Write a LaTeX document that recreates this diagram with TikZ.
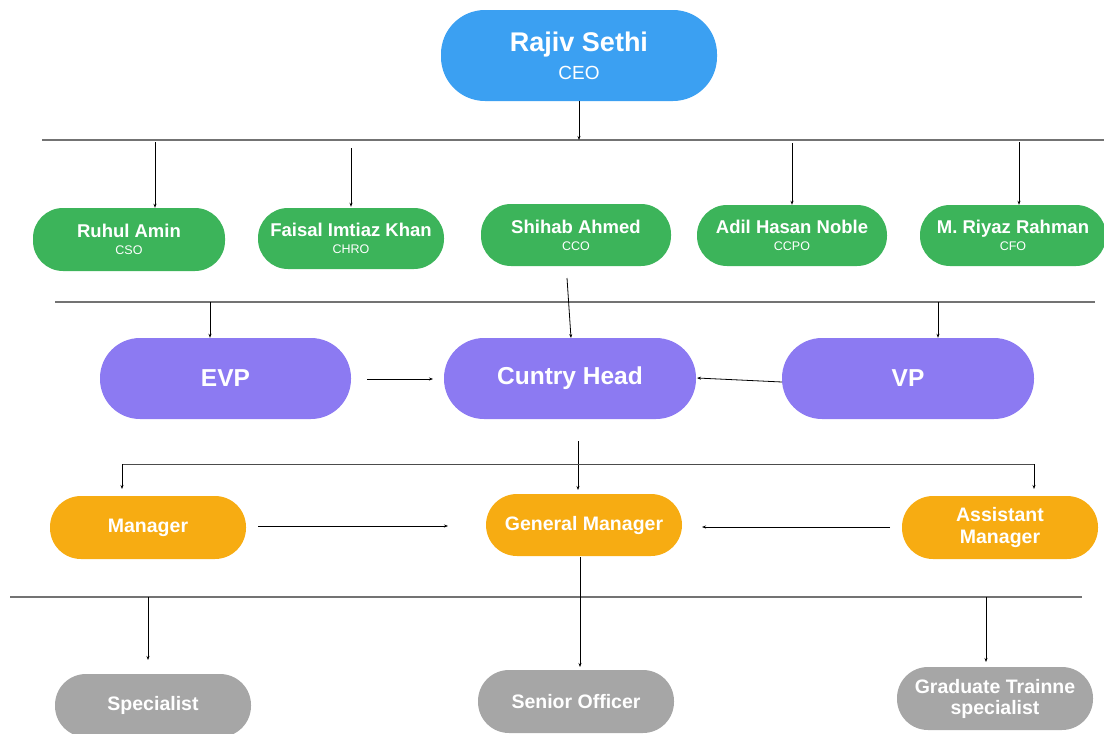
\documentclass[tikz,border=0pt]{standalone}
\usepackage{fontspec}
\setmainfont{Liberation Sans}
\usetikzlibrary{arrows.meta}
\definecolor{ceoblue}{HTML}{3BA0F2}
\definecolor{cgreen}{HTML}{3CB45A}
\definecolor{cpurple}{HTML}{8C7AF2}
\definecolor{corange}{HTML}{F7AC12}
\definecolor{cgray}{HTML}{A6A6A6}
\begin{document}
\begin{tikzpicture}[x=1pt,y=-1pt,
  box/.style={rectangle, text=white, align=center, inner sep=0pt, font=\bfseries},
  ceobox/.style={box, fill=ceoblue, minimum width=276pt, minimum height=91pt, rounded corners=44pt,
     font=\bfseries\fontsize{27}{28}\selectfont},
  greenbox/.style={box, fill=cgreen, minimum width=190pt, minimum height=62pt, rounded corners=30pt,
     font=\bfseries\fontsize{18.5}{17}\selectfont},
  purplebox/.style={box, fill=cpurple, minimum width=252pt, minimum height=81pt, rounded corners=40pt,
     font=\bfseries\fontsize{24.5}{26}\selectfont},
  orangebox/.style={box, fill=corange, minimum width=196pt, minimum height=63pt, rounded corners=31pt,
     font=\bfseries\fontsize{19.5}{22}\selectfont},
  graybox/.style={box, fill=cgray, minimum width=196pt, minimum height=63pt, rounded corners=31pt,
     font=\bfseries\fontsize{19.5}{21}\selectfont},
  rolefont/.style={},
  bus/.style={draw=black!55, line width=1.6pt},
  thinbus/.style={draw=black!70, line width=1pt},
  conn/.style={draw=black, line width=0.8pt, -{Stealth[length=4pt,width=3pt]}},
]
\useasboundingbox (0,0) rectangle (1104,734);

% ---- nodes ----
\node[ceobox] (ceo) at (579,55.5) {Rajiv Sethi\\{\mdseries\fontsize{19}{20}\selectfont CEO}};

\node[greenbox, minimum width=192pt, minimum height=63pt] (ruhul) at (129,239.5)
  {Ruhul Amin\\{\mdseries\fontsize{12.5}{13}\selectfont CSO}};
\node[greenbox, minimum width=186pt, minimum height=61pt] (faisal) at (351,238.5)
  {Faisal Imtiaz Khan\\{\mdseries\fontsize{12.5}{13}\selectfont CHRO}};
\node[greenbox] (shihab) at (576,235)
  {Shihab Ahmed\\{\mdseries\fontsize{12.5}{13}\selectfont CCO}};
\node[greenbox, minimum height=61pt] (adil) at (792,235.5)
  {Adil Hasan Noble\\{\mdseries\fontsize{12.5}{13}\selectfont CCPO}};
\node[greenbox, minimum width=186pt, minimum height=61pt] (riyaz) at (1013,235.5)
  {M. Riyaz Rahman\\{\mdseries\fontsize{12.5}{13}\selectfont CFO}};

\node[purplebox, minimum width=251pt] (evp) at (225.5,378.5) {EVP};
\node[purplebox] (ch) at (570,378.5) {Cuntry Head};
\node[purplebox] (vp) at (908,378.5) {VP};

\node[orangebox] (mgr) at (148,527.5) {Manager};
\node[orangebox, minimum height=62pt] (gm) at (584,525) {General Manager};
\node[orangebox] (am) at (1000,527.5) {Assistant\\Manager};

\node[graybox] (spec) at (153,705.5) {Specialist};
\node[graybox] (so) at (576,701.5) {Senior Officer};
\node[graybox] (gt) at (995,698.5) {Graduate Trainne\\specialist};

% ---- bus lines ----
\coordinate (b1L) at (42,140);   \coordinate (b1R) at (1104,140);
\coordinate (b2L) at (55,302);   \coordinate (b2R) at (1095,302);
\coordinate (b4L) at (10,597);   \coordinate (b4R) at (1082,597);
\draw[bus] (b1L) -- (b1R);
\draw[bus] (b2L) -- (b2R);
\draw[bus] (b4L) -- (b4R);

% CEO to bus 1
\draw[conn] (ceo.south) -- (ceo.south |- b1L);

% bus 1 to green
\coordinate (d1) at (155,142);
\coordinate (d2) at (351,148);
\coordinate (d4) at (792,143);
\coordinate (d5) at (1019,142);
\draw[conn] (d1) -- (d1 |- ruhul.north) ;
\draw[conn] (d2) -- ([yshift=1pt]d2 |- faisal.north);
\draw[conn] (d4) -- (d4 |- adil.north);
\draw[conn] (d5) -- (d5 |- riyaz.north);

% Shihab to Cuntry Head
\coordinate (s1) at (567,278);
\coordinate (s2) at (571,338);
\draw[conn] (s1) -- (s2);

% bus 2 to EVP / VP
\coordinate (e1) at (210,302);
\coordinate (v1) at (938,302);
\draw[conn] (e1) -- (e1 |- evp.north);
\draw[conn] (v1) -- (v1 |- vp.north);

% EVP -> Cuntry Head, VP -> Cuntry Head
\coordinate (ea) at (367,379);
\coordinate (eb) at (433,379);
\draw[conn] (ea) -- (eb);
\coordinate (va) at (782,382);
\coordinate (vb) at (697,378);
\draw[conn] (va) -- (vb);

% Cuntry Head -> General Manager
\coordinate (c1) at (578,441);
\coordinate (c2) at (578,490);
\draw[conn] (c1) -- (c2);

% bus 3 with drops to Manager and Assistant Manager
\coordinate (m3) at (122,489);
\coordinate (a3) at (1034,489);
\coordinate (b3L) at (122,464);
\coordinate (b3R) at (1034,464);
\draw[thinbus] (b3L) -- (b3R);
\draw[conn] (b3L) -- (m3);
\draw[conn] (b3R) -- (a3);

% Manager -> GM, Assistant Manager -> GM
\coordinate (ma) at (258,526);
\coordinate (mb) at (448,526);
\draw[conn] (ma) -- (mb);
\coordinate (aa) at (890,527);
\coordinate (ab) at (702,527);
\draw[conn] (aa) -- (ab);

% GM -> Senior Officer
\coordinate (g1) at (580,557);
\coordinate (g2) at (580,667);
\draw[conn] (g1) -- (g2);

% bus 4 to Specialist, Graduate
\coordinate (p1) at (148,597);
\coordinate (p2) at (148,660);
\coordinate (q1) at (986,597);
\coordinate (q2) at (986,662);
\draw[conn] (p1) -- (p2);
\draw[conn] (q1) -- (q2);
\end{tikzpicture}
\end{document}
